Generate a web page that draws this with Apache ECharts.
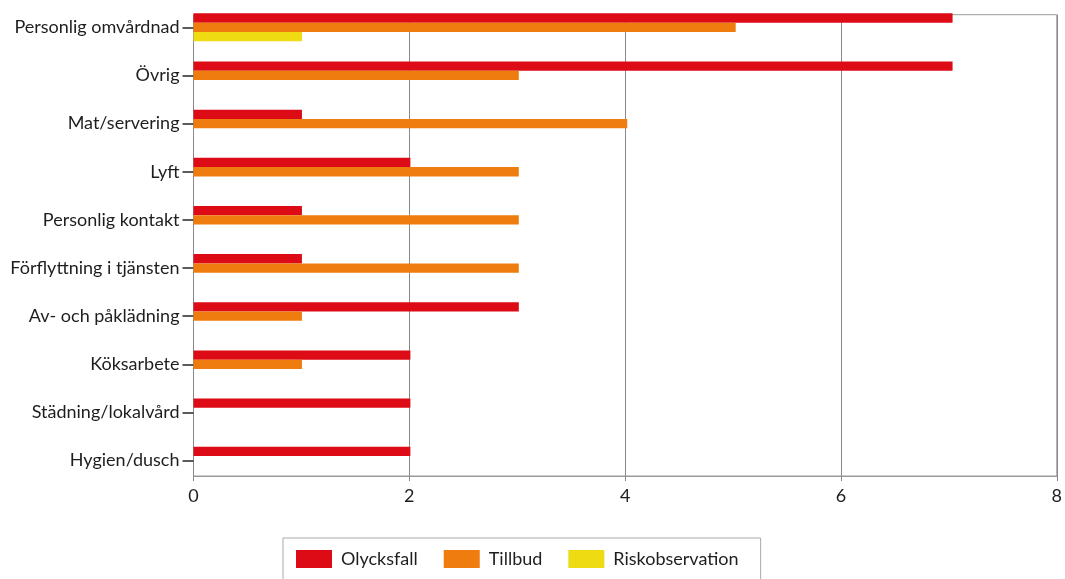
<!DOCTYPE html>
<html>
<head>
<meta charset="utf-8">
<script src="https://cdn.jsdelivr.net/npm/echarts@6/dist/echarts.min.js"></script>
<style>html,body{margin:0;padding:0;background:#fff}#c{width:1065px;height:579px}</style>
</head>
<body>
<div id="c"></div>
<script>
const categories = ["Personlig omvårdnad","Övrig","Mat/servering","Lyft","Personlig kontakt","Förflyttning i tjänsten","Av- och påklädning","Köksarbete","Städning/lokalvård","Hygien/dusch"];
const olycksfall = [7,7,1,2,1,1,3,2,2,2];
const tillbud = [5,3,4,3,3,3,1,1,0,0];
const riskobservation = [1,0,0,0,0,0,0,0,0,0];
const xTicks = [0,2,4,6,8];

const FONT = 'Lato';
const chart = echarts.init(document.getElementById('c'));
const barW = 9.3;
chart.setOption({
  animation: false,
  backgroundColor: '#fff',
  textStyle: {fontFamily: FONT},
  grid: [
    {left: 193.5, right: 4, top: 3.2, bottom: 94.3, show: false},
    {left: 193.5, right: 4, top: 14.7, bottom: 103, show: true, borderColor: '#9a9a9a', borderWidth: 1, z: 0}
  ],
  xAxis: [
    {gridIndex: 0, type: 'value', min: 0, max: 8, interval: 2, show: false},
    {gridIndex: 1, type: 'value', min: xTicks[0], max: xTicks[xTicks.length-1], interval: 2,
     axisLine: {show: true, lineStyle: {color: '#9a9a9a', width: 1}},
     axisTick: {show: true, length: 5, lineStyle: {color: '#888'}},
     splitLine: {show: true, lineStyle: {color: '#8a8a8a', width: 1}},
     axisLabel: {fontFamily: FONT, fontSize: 18, color: '#1e1e1e', margin: 11}}
  ],
  yAxis: [
    {gridIndex: 0, type: 'category', inverse: true, data: categories,
     axisLine: {show: false},
     axisTick: {show: true, alignWithLabel: true, length: 11, lineStyle: {color: '#333', width: 1.6}},
     axisLabel: {fontFamily: FONT, fontSize: 18, color: '#1e1e1e', margin: 14},
     splitLine: {show: false}},
    {gridIndex: 1, type: 'value', min: 0, max: 1, show: false}
  ],
  legend: {
    left: 283, top: 538,
    padding: [12, 22, 12, 13],
    borderColor: '#aaa', borderWidth: 1,
    itemWidth: 36, itemHeight: 18, itemGap: 26,
    icon: 'rect',
    textStyle: {fontFamily: FONT, fontSize: 18, color: '#1e1e1e', padding: [0, 0, 0, 4]},
    data: ['Olycksfall', 'Tillbud', 'Riskobservation']
  },
  series: [
    {name: 'Olycksfall', type: 'bar', xAxisIndex: 0, yAxisIndex: 0, data: olycksfall, barWidth: barW, barGap: '0%', itemStyle: {color: '#dc0b16'}, z: 3},
    {name: 'Tillbud', type: 'bar', xAxisIndex: 0, yAxisIndex: 0, data: tillbud, barWidth: barW, barGap: '0%', itemStyle: {color: '#ef7c0e'}, z: 3},
    {name: 'Riskobservation', type: 'bar', xAxisIndex: 0, yAxisIndex: 0, data: riskobservation, barWidth: barW, barGap: '0%', itemStyle: {color: '#eedb12'}, z: 3}
  ]
});
</script>
</body>
</html>
